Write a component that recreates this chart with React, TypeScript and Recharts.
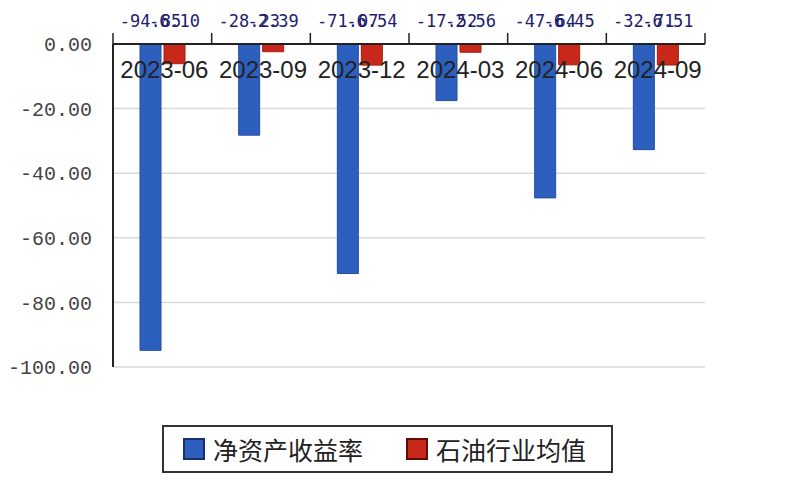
import { BarChart, Bar, XAxis, YAxis, CartesianGrid, LabelList } from "recharts";

const categories = ["2023-06", "2023-09", "2023-12", "2024-03", "2024-06", "2024-09"];
const roeValues = [-94.85, -28.23, -71.07, -17.52, -47.64, -32.71];
const industryValues = [-6.1, -2.39, -6.54, -2.56, -6.45, -6.51];
const yTicks = [0, -20, -40, -60, -80, -100];

const data = categories.map((c, i) => ({
  period: c,
  roe: roeValues[i],
  industry: industryValues[i],
}));

const W = 800;
const H = 500;
const PLOT_LEFT = 113;
const PLOT_RIGHT = 705;
const PLOT_TOP = 44;
const PLOT_BOTTOM = 367;
const BAND = (PLOT_RIGHT - PLOT_LEFT) / categories.length;

const CategoryTick = (props: any) => {
  const { x, payload, index } = props;
  const last = index === categories.length - 1;
  return (
    <g>
      <line x1={x - BAND / 2} x2={x - BAND / 2} y1={PLOT_TOP} y2={PLOT_TOP - 11} stroke="#222" strokeWidth={1.5} />
      {last && (
        <line x1={x + BAND / 2} x2={x + BAND / 2} y1={PLOT_TOP} y2={PLOT_TOP - 11} stroke="#222" strokeWidth={1.5} />
      )}
      <text
        x={x + 2}
        y={PLOT_TOP + 25}
        textAnchor="middle"
        dominantBaseline="central"
        fontFamily="Liberation Sans"
        fontSize={24}
        fill="#222"
      >
        {payload.value}
      </text>
    </g>
  );
};

const ValueLabel = (props: any) => {
  const { x, width, value } = props;
  return (
    <text
      x={x + width / 2}
      y={21}
      textAnchor="middle"
      dominantBaseline="central"
      fontFamily="DejaVu Sans Mono"
      fontSize={17}
      fill="#1e1e6e"
    >
      {Number(value).toFixed(2)}
    </text>
  );
};

const legendItems = [
  { name: "净资产收益率", color: "#2d5fbe", border: "#1a2f6a" },
  { name: "石油行业均值", color: "#c8281a", border: "#5a1008" },
];

export default function App() {
  return (
    <div style={{ position: "absolute", left: 0, top: 0, width: W, height: H, background: "#fff" }}>
      <BarChart
        width={W}
        height={H}
        data={data}
        margin={{ top: 0, right: W - PLOT_RIGHT, bottom: H - PLOT_BOTTOM, left: 0 }}
        barSize={21}
        barGap={3}
      >
        <CartesianGrid vertical={false} stroke="#d9d9d9" strokeWidth={1.5} />
        <YAxis
          type="number"
          domain={[-100, 0]}
          ticks={yTicks}
          width={PLOT_LEFT}
          tickSize={0}
          tickMargin={21}
          axisLine={{ stroke: "#222", strokeWidth: 2 }}
          tickFormatter={(v: number) => v.toFixed(2)}
          tick={{ fontFamily: "Liberation Mono", fontSize: 20, fill: "#444" }}
        />
        <Bar dataKey="roe" fill="#2d5fbe" stroke="#244f9f" isAnimationActive={false}>
          <LabelList dataKey="roe" content={ValueLabel} />
        </Bar>
        <Bar dataKey="industry" fill="#c8281a" stroke="#a51f12" isAnimationActive={false}>
          <LabelList dataKey="industry" content={ValueLabel} />
        </Bar>
        <XAxis
          dataKey="period"
          orientation="top"
          height={PLOT_TOP}
          tickLine={false}
          axisLine={{ stroke: "#222", strokeWidth: 2 }}
          tick={CategoryTick}
          interval={0}
        />
      </BarChart>
      <div
        style={{
          position: "absolute",
          left: 162,
          top: 425,
          width: 447,
          height: 44,
          border: "2px solid #333",
          background: "#fff",
          display: "flex",
          alignItems: "center",
          fontFamily: "Noto Sans CJK SC",
          fontSize: 25,
          color: "#222",
        }}
      >
        {legendItems.map((item, i) => (
          <div key={item.name} style={{ display: "flex", alignItems: "center", marginLeft: i === 0 ? 19 : 43 }}>
            <span
              style={{
                display: "inline-block",
                width: 18,
                height: 18,
                background: item.color,
                border: `2px solid ${item.border}`,
                marginRight: 8,
              }}
            />
            <span>{item.name}</span>
          </div>
        ))}
      </div>
    </div>
  );
}
